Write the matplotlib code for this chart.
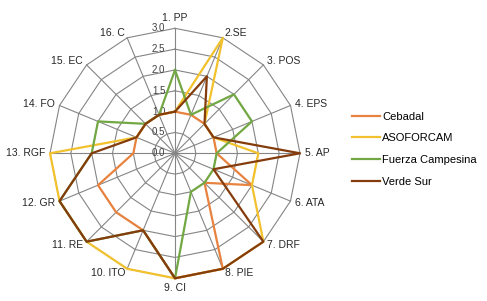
import numpy as np
import matplotlib.pyplot as plt

ejes = ['1. PP', '2.SE', '3. POS', '4. EPS', '5. AP', '6. ATA', '7. DRF', '8. PIE',
        '9. CI', '10. ITO', '11. RE', '12. GR', '13. RGF', '14. FO', '15. EC', '16. C']
niveles = [0.0, 0.5, 1.0, 1.5, 2.0, 2.5, 3.0]

cebadal = [1, 1, 1, 1, 1, 2, 1, 3, 3, 2, 2, 2, 1, 1, 1, 1]
asoforcam = [1, 3, 1, 1, 2, 2, 3, 3, 3, 3, 3, 3, 3, 1, 1, 1]
fuerza_campesina = [2, 1, 2, 2, 1, 1, 1, 1, 3, 2, 3, 3, 2, 2, 1, 1]
verde_sur = [1, 2, 1, 1, 3, 1, 3, 3, 3, 2, 3, 3, 2, 1, 1, 1]

nombres = ['Cebadal', 'ASOFORCAM', 'Fuerza Campesina', 'Verde Sur']
colores = ['#E8823F', '#F2C12E', '#72A843', '#843C0C']

plt.rcParams['font.family'] = ['Liberation Sans', 'DejaVu Sans']

fig = plt.figure(figsize=(4.87, 3.01), dpi=100)
ax = fig.add_axes([0.1027, 0.0754, 0.5133, 0.8306], projection='polar')
ax.set_theta_zero_location('N')
ax.set_theta_direction(-1)
ax.set_ylim(0, 3)
ax.grid(False)
ax.set_xticks([])
ax.set_yticks([])
ax.spines['polar'].set_visible(False)

angulos = np.linspace(0, 2 * np.pi, len(ejes), endpoint=False)
cerrado = np.append(angulos, angulos[0])

# rejilla poligonal y radios
gris = '#858585'
for r in niveles[1:]:
    ax.plot(cerrado, [r] * len(cerrado), color=gris, lw=0.8, zorder=1, clip_on=False)
for a in angulos:
    ax.plot([a, a], [0, 3], color=gris, lw=0.8, zorder=1, clip_on=False)

# etiquetas del eje radial
for r in niveles:
    ax.annotate(f'{r:.1f}', xy=(0, r), xytext=(-7, 0), textcoords='offset points',
                ha='right', va='center', fontsize=7, color='#404040')

# etiquetas de categorias
for a, nombre in zip(angulos, ejes):
    s, c = np.sin(a), np.cos(a)
    ha = 'left' if s > 0.1 else ('right' if s < -0.1 else 'center')
    va = 'bottom' if c > 0.95 else ('top' if c < -0.95 else 'center')
    ax.annotate(nombre, xy=(a, 3), xytext=(3.5 * s, 3.5 * c), textcoords='offset points',
                ha=ha, va=va, fontsize=7.5, color='#262626')

lineas = []
for nombre, valores, color in zip(nombres, [cebadal, asoforcam, fuerza_campesina, verde_sur], colores):
    v = valores + valores[:1]
    ln, = ax.plot(cerrado, v, color=color, lw=1.6, label=nombre, zorder=3, clip_on=False)
    lineas.append(ln)

fig.legend(handles=lineas, loc='upper left', bbox_to_anchor=(0.7228, 0.629),
           frameon=False, fontsize=8, handlelength=2.5, handletextpad=0.2,
           labelspacing=1.05, borderpad=0, borderaxespad=0)

fig.savefig('out.png', dpi=100)
